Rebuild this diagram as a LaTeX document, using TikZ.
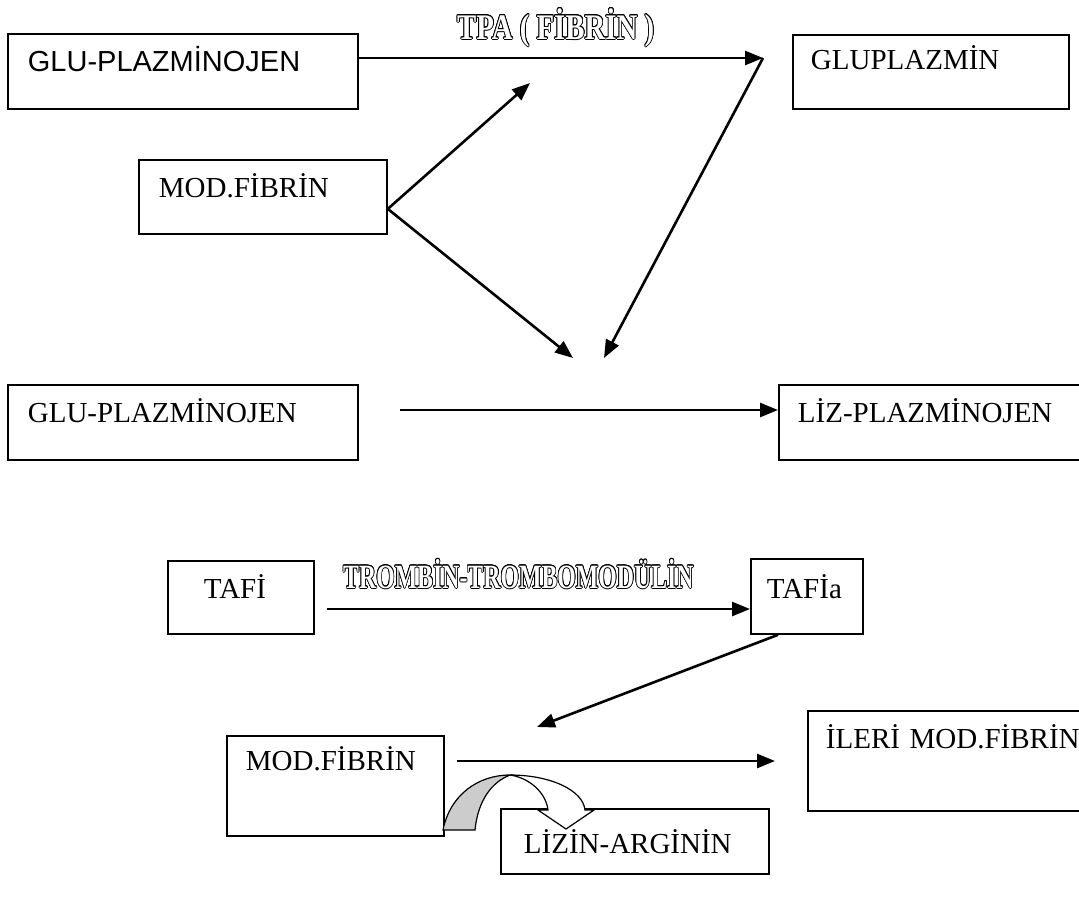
\documentclass[tikz,border=0pt]{standalone}
\usepackage{fontspec}
\setmainfont{Liberation Serif}
\newfontfamily\arialf{Liberation Sans}
\usepackage{graphicx}
\usepackage{contour}
\contourlength{1pt}
\usetikzlibrary{positioning,arrows.meta}
\tikzset{
  bx/.style n args={4}{draw,line width=1.8pt,anchor=north west,align=left,inner ysep=0pt,inner xsep=#1,text width=#2,text height=#3,text depth=#4,font=\fontsize{29}{34}\selectfont},
  arr/.style={line width=2.6pt,-{Triangle[length=18pt,width=14pt]}},
  ttl/.style={anchor=base west,inner sep=0pt},
  every picture/.style={x=1pt,y=-1pt}
}
\newcommand{\hollow}[3]{\scalebox{#1}[1]{\fontsize{#2}{#2}\selectfont\bfseries\contour{black}{\textcolor{white}{#3}}}}

\begin{document}
\begin{tikzpicture}
  \useasboundingbox (0,0) rectangle (1079,900);
  \clip (0,0) rectangle (1079,900);
  % upper scheme
  \node[bx={20pt}{310pt}{38pt}{37pt},font=\arialf\fontsize{29}{34}\selectfont] (glu1) at (7,33) {GLU-PLAZMİNOJEN};
  \node[bx={18pt}{240pt}{35pt}{39pt}] (glupl) at (792,34) {GLUPLAZMİN};
  \node[bx={20pt}{208pt}{38pt}{36pt}] (modf1) at (138,159) {MOD.FİBRİN};
  \node[bx={20pt}{310pt}{38pt}{37pt}] (glu2) at (7,384) {GLU-PLAZMİNOJEN};
  \node[bx={19pt}{312pt}{38pt}{37pt}] (liz) at (778,384) {LİZ-PLAZMİNOJEN};
  \node[ttl] (tpa) at (457,39) {\hollow{0.8}{36}{TPA ( FİBRİN )}};
  \coordinate (j1) at (763,58);
  \coordinate (v1) at ([yshift=-12pt]modf1.east);
  \coordinate (m1) at (604,358); \coordinate (m2) at (530,83); \coordinate (m3) at (573,358);
  \coordinate (s2) at (400,410);
  \draw[arr] (glu1.east |- j1) -- (j1);
  \draw[arr] (j1) -- (m1);
  \draw[arr] (v1) -- (m2); \draw[arr] (v1) -- (m3);
  \draw[arr] (s2) -- (liz.west |- s2);
  % lower scheme
  \node[bx={36pt}{74pt}{38pt}{35pt}] (tafi) at (167,560) {TAFİ};
  \node[bx={16pt}{80pt}{40pt}{35pt}] (tafia) at (750,558) {TAFİa};
  \node[bx={19pt}{179pt}{35pt}{65pt}] (modf2) at (226,735) {MOD.FİBRİN};
  \node[bx={18pt}{262pt}{38pt}{62pt}] (ileri) at (807,710) {İLERİ MOD.FİBRİN};
  \node[bx={23pt}{222pt}{45pt}{20pt}] (lizarg) at (500,808) {LİZİN-ARGİNİN};
  \node[ttl] (trb) at (343,588) {\hollow{0.7}{34}{TROMBİN-TROMBOMODÜLİN}};
  \coordinate (s3) at (327,609);
  \coordinate (m4) at (537,727);
  \coordinate (s4) at (457,761); \coordinate (m5) at (775,761);
  \draw[arr] (s3) -- (tafia.west |- s3);
  \draw[arr] ([xshift=28pt]tafia.south west) -- (m4);
  \draw[arr] (s4) -- (m5);
  % bent arrow under mod.fibrin
  \draw[line width=1.2pt,fill=gray!40] (443,830) .. controls (450,795) and (478,775) .. (510,775)
    .. controls (492,782) and (478,800) .. (475,830) -- cycle;
  \draw[line width=1.2pt,fill=white] (510,775) .. controls (550,775) and (583,790) .. (585,810)
    -- (594,810) -- (566,829) -- (538,810) -- (548,810) .. controls (546,793) and (530,778) .. (510,775) -- cycle;
\end{tikzpicture}
\end{document}
